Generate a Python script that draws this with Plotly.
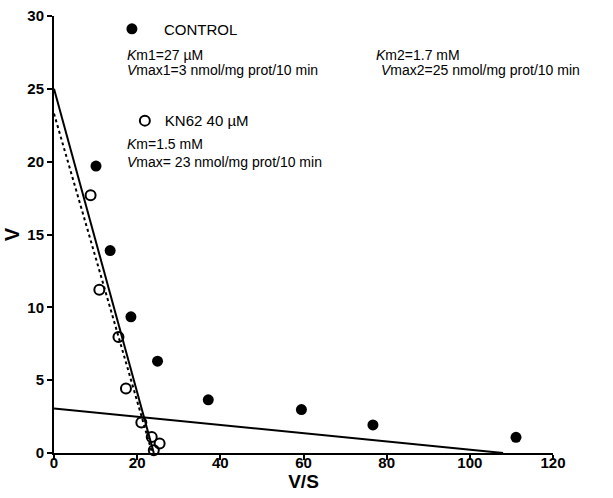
import plotly.graph_objects as go

# Eadie-Hofstee data: v versus v/S
control_vs = [10.1, 13.5, 18.5, 24.9, 37.1, 59.5, 76.7, 111.1]
control_v = [19.7, 13.9, 9.35, 6.3, 3.65, 2.98, 1.93, 1.08]

kn62_vs = [8.8, 10.9, 15.5, 17.3, 21.0, 23.5, 25.4, 24.0]
kn62_v = [17.7, 11.2, 7.96, 4.43, 2.09, 1.1, 0.65, 0.19]

# fitted lines (endpoints on the axes)
control_low_vs = [0, 24.0]
control_low_v = [25.0, 0]
control_high_vs = [0, 108.0]
control_high_v = [3.05, 0]
kn62_fit_vs = [0, 23.6]
kn62_fit_v = [23.3, 0]

x_ticks = [0, 20, 40, 60, 80, 100, 120]
y_ticks = [0, 5, 10, 15, 20, 25, 30]

FONT = "Liberation Sans, Arial, sans-serif"

fig = go.Figure()

fig.add_trace(go.Scatter(x=control_low_vs, y=control_low_v, mode="lines",
                         line=dict(color="black", width=2), showlegend=False))
fig.add_trace(go.Scatter(x=control_high_vs, y=control_high_v, mode="lines",
                         line=dict(color="black", width=2), showlegend=False))
fig.add_trace(go.Scatter(x=kn62_fit_vs, y=kn62_fit_v, mode="lines",
                         line=dict(color="black", width=2, dash="dot"), showlegend=False))

fig.add_trace(go.Scatter(x=control_vs, y=control_v, mode="markers", name="CONTROL",
                         marker=dict(symbol="circle", size=11, color="black"),
                         cliponaxis=False, legend="legend"))
fig.add_trace(go.Scatter(x=kn62_vs, y=kn62_v, mode="markers", name="KN62 40 µM",
                         marker=dict(symbol="circle-open", size=10, color="black",
                                     line=dict(width=2)),
                         cliponaxis=False, legend="legend2"))

notes = [
    (17.1, 27.32, "<i>K</i>m1=27 µM"),
    (17.1, 26.29, "<i>V</i>max1=3 nmol/mg prot/10 min"),
    (77.0, 27.32, "<i>K</i>m2=1.7 mM"),
    (78.2, 26.29, "<i>V</i>max2=25 nmol/mg prot/10 min"),
    (17.1, 21.21, "<i>K</i>m=1.5 mM"),
    (17.1, 19.98, "<i>V</i>max= 23 nmol/mg prot/10 min"),
]
for x, y, t in notes:
    fig.add_annotation(x=x, y=y, xref="x", yref="y", text=t, showarrow=False,
                       xanchor="left", yanchor="middle",
                       font=dict(family=FONT, size=14, color="black"))

axis_common = dict(showgrid=False, zeroline=False, showline=True, linewidth=2,
                   linecolor="black", ticks="outside", ticklen=5, tickwidth=2,
                   tickcolor="black", automargin=False,
                   tickfont=dict(family=FONT, size=15, color="black"))

fig.update_xaxes(range=[0, 120], tickvals=x_ticks,
                 ticktext=[f"<b>{v}</b>" for v in x_ticks], ticklabelstandoff=-10,
                 **axis_common,
                 title=dict(text="<b>V/S</b>", standoff=4,
                            font=dict(family=FONT, size=19, color="black")))
fig.update_yaxes(range=[0, 30], tickvals=y_ticks,
                 ticktext=[f"<b>{v}</b>" for v in y_ticks], **axis_common,
                 title=dict(text="<b>V</b>", standoff=2,
                            font=dict(family=FONT, size=20, color="black")))

legend_style = dict(xanchor="left", yanchor="middle", bgcolor="rgba(0,0,0,0)",
                    font=dict(family=FONT, size=15, color="black"),
                    borderwidth=0)
fig.update_layout(
    width=613, height=498,
    margin=dict(l=54, r=60, t=16, b=45, autoexpand=False),
    paper_bgcolor="white", plot_bgcolor="white",
    legend=dict(x=0.092, y=0.97, itemwidth=54, **legend_style),
    legend2=dict(x=0.142, y=0.760, itemwidth=30, **legend_style),
)

fig.write_html("out.html")
